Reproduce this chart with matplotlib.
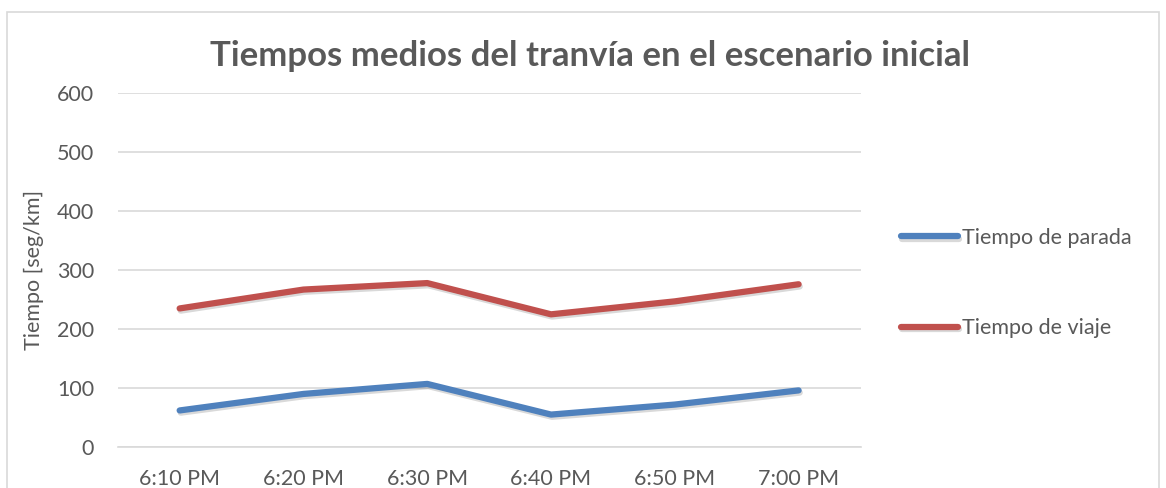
import matplotlib.pyplot as plt
import matplotlib.patheffects as pe
from matplotlib.patches import Rectangle

# Mean tram times per time slot
horas = ["6:10 PM", "6:20 PM", "6:30 PM", "6:40 PM", "6:50 PM", "7:00 PM"]
tiempo_parada = [62, 90, 107, 55, 72, 96]
tiempo_viaje = [235, 267, 278, 225, 247, 276]

AZUL = "#4F81BD"
ROJO = "#C0504D"
GRIS_TEXTO = "#595959"
GRIS_REJILLA = "#D9D9D9"
FS = 15.5

plt.rcParams["font.family"] = ["Lato", "DejaVu Sans"]

fig = plt.figure(figsize=(11.66, 4.88), dpi=100)
ax = fig.add_axes([0.101, 0.084, 0.637, 0.725])

sombra = [pe.SimpleLineShadow(offset=(0.8, -1.6), alpha=0.15, shadow_color="black"),
          pe.Normal()]
x = range(len(horas))
ax.plot(x, tiempo_parada, color=AZUL, lw=4.5, solid_capstyle="round",
        label="Tiempo de parada", path_effects=sombra)
ax.plot(x, tiempo_viaje, color=ROJO, lw=4.5, solid_capstyle="round",
        label="Tiempo de viaje", path_effects=sombra)

ax.set_xlim(-0.5, len(horas) - 0.5)
ax.set_ylim(0, 600)
ax.set_yticks(range(0, 601, 100))
ax.set_xticks(list(x))
ax.set_xticklabels(horas)
ax.grid(axis="y", color=GRIS_REJILLA, lw=1.2)
ax.set_axisbelow(True)
for s in ax.spines.values():
    s.set_visible(False)
ax.spines["bottom"].set_visible(True)
ax.spines["bottom"].set_color(GRIS_REJILLA)
ax.spines["bottom"].set_linewidth(1.2)
ax.tick_params(length=0, labelsize=FS, colors=GRIS_TEXTO)
ax.tick_params(axis="x", pad=16)
ax.tick_params(axis="y", pad=17)
ax.set_ylabel("Tiempo [seg/km]", fontsize=FS, color=GRIS_TEXTO, labelpad=9)

fig.text(0.506, 0.885, "Tiempos medios del tranvía en el escenario inicial",
         ha="center", va="center", fontsize=25, fontweight="bold", color=GRIS_TEXTO)

leg = fig.legend(loc="upper left", bbox_to_anchor=(0.7727, 0.533), frameon=False,
                 fontsize=FS, handlelength=2.65, handletextpad=0.19, labelspacing=3.27,
                 borderpad=0, borderaxespad=0)
for t in leg.get_texts():
    t.set_color(GRIS_TEXTO)

# chart area frame
fig.patches.append(Rectangle((0.006, -0.05), 0.988, 1.025, transform=fig.transFigure,
                             fill=False, edgecolor="#D9D9D9", lw=1.2))

fig.savefig("out.png", dpi=100)
